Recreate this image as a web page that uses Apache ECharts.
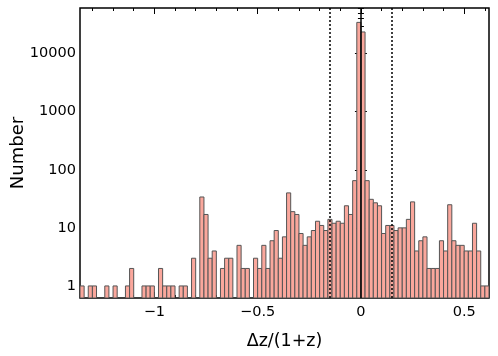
<!DOCTYPE html>
<html>
<head>
<meta charset="utf-8">
<script src="https://cdn.jsdelivr.net/npm/echarts@6/dist/echarts.min.js"></script>
<style>
html, body { margin: 0; padding: 0; background: #fff; }
#main { width: 498px; height: 356px; }
</style>
</head>
<body>
<div id="main"></div>
<script>
var chart = echarts.init(document.getElementById('main'));

// histogram bins: 0.02 wide, first bin starts at -1.36
var binStart = -1.36;
var binWidth = 0.02;
var counts = [
  1, 0, 1, 1, 0, 0, 1, 0, 1, 0,
  0, 1, 2, 0, 0, 1, 1, 1, 0, 2,
  1, 1, 1, 0, 1, 1, 0, 3, 0, 34,
  17, 3, 4, 0, 2, 3, 3, 0, 5, 2,
  2, 0, 3, 2, 5, 2, 6, 9, 3, 7,
  40, 19, 17, 8, 5, 7, 9, 13, 11, 9,
  14, 12, 13, 12, 24, 17, 65, 34500, 23600, 65,
  31, 27, 24, 8, 11, 11, 9, 10, 10, 14,
  28, 4, 6, 7, 2, 2, 2, 6, 4, 25,
  6, 5, 5, 4, 4, 12, 4, 1, 1
];

var xMin = -1.36, xMax = 0.62;
var yMin = 0.62, yMax = 61000;

var xMajor = [-1, -0.5, 0, 0.5];
var xMinor = [-1.3, -1.2, -1.1, -0.9, -0.8, -0.7, -0.6, -0.4, -0.3, -0.2, -0.1,
              0.1, 0.2, 0.3, 0.4, 0.6];
var yMajor = [1, 10, 100, 1000, 10000];
var yMinor = [0.7, 0.8, 0.9,
              2, 3, 4, 5, 6, 7, 8, 9,
              20, 30, 40, 50, 60, 70, 80, 90,
              200, 300, 400, 500, 600, 700, 800, 900,
              2000, 3000, 4000, 5000, 6000, 7000, 8000, 9000,
              20000, 30000, 40000, 50000, 60000];

var centerLine = 0;
var outlierCut = [-0.15, 0.15];

var bars = [];
for (var i = 0; i < counts.length; i++) {
  if (counts[i] > 0) {
    var x0 = +(binStart + i * binWidth).toFixed(4);
    bars.push([x0, +(x0 + binWidth).toFixed(4), counts[i]]);
  }
}

var font = 'DejaVu Sans';

function xAx(pos, ticks, len, label) {
  return {
    type: 'value', position: pos, min: xMin, max: xMax,
    axisLine: { show: false },
    splitLine: { show: false },
    axisTick: { show: true, inside: true, length: len, customValues: ticks,
                lineStyle: { color: '#000', width: 1 } },
    axisLabel: label ? {
      show: true, customValues: xMajor, margin: 7,
      color: '#000', fontFamily: font, fontSize: 14.5,
      formatter: function (v) { return String(v).replace('-', '\u2212'); }
    } : { show: false }
  };
}

function yAx(pos, ticks, len, label) {
  return {
    type: 'log', position: pos, min: yMin, max: yMax,
    axisLine: { show: false },
    splitLine: { show: false },
    minorTick: { show: false },
    axisTick: { show: true, inside: true, length: len, customValues: ticks,
                lineStyle: { color: '#000', width: 1 } },
    axisLabel: label ? {
      show: true, customValues: yMajor, margin: 4,
      color: '#000', fontFamily: font, fontSize: 14.5,
      formatter: function (v) { return String(v); }
    } : { show: false }
  };
}

var xAxes = [xAx('bottom', xMajor, 6, true), xAx('bottom', xMinor, 3, false),
             xAx('top', xMajor, 6, false), xAx('top', xMinor, 3, false)];
xAxes[0].name = '\u0394z/(1+z)';
xAxes[0].nameLocation = 'middle';
xAxes[0].nameGap = 34;
xAxes[0].nameMoveOverlap = false;
xAxes[0].nameTextStyle = { color: '#000', fontFamily: font, fontSize: 17.5 };

var yAxes = [yAx('left', yMajor, 6, true), yAx('left', yMinor, 3, false),
             yAx('right', yMajor, 6, false), yAx('right', yMinor, 3, false)];
yAxes[0].name = 'Number';
yAxes[0].nameLocation = 'middle';
yAxes[0].nameGap = 53;
yAxes[0].nameMoveOverlap = false;
yAxes[0].nameTextStyle = { color: '#000', fontFamily: font, fontSize: 18 };

option = {
  animation: false,
  backgroundColor: '#fff',
  grid: {
    left: 80, right: 9, top: 8, bottom: 58,
    containLabel: false,
    outerBoundsMode: 'none',
    show: true, borderColor: '#000', borderWidth: 1.5, backgroundColor: 'transparent'
  },
  xAxis: xAxes,
  yAxis: yAxes,
  series: [
    {
      type: 'custom',
      xAxisIndex: 0,
      yAxisIndex: 0,
      data: bars,
      clip: true,
      renderItem: function (params, api) {
        var p0 = api.coord([api.value(0), yMin]);
        var p1 = api.coord([api.value(1), api.value(2)]);
        return {
          type: 'rect',
          shape: { x: p0[0], y: p1[1], width: p1[0] - p0[0], height: p0[1] - p1[1] },
          style: { fill: '#faa79c', stroke: '#555', lineWidth: 1 }
        };
      }
    },
    {
      type: 'line',
      xAxisIndex: 0,
      yAxisIndex: 0,
      data: [],
      z: 5,
      markLine: {
        silent: true,
        symbol: 'none',
        label: { show: false },
        data: [
          { xAxis: centerLine, lineStyle: { color: '#000', width: 1.5, type: 'solid' } },
          { xAxis: outlierCut[0], lineStyle: { color: '#000', width: 1.5, type: [2, 2] } },
          { xAxis: outlierCut[1], lineStyle: { color: '#000', width: 1.5, type: [2, 2] } }
        ]
      }
    }
  ]
};

chart.setOption(option);
</script>
</body>
</html>
